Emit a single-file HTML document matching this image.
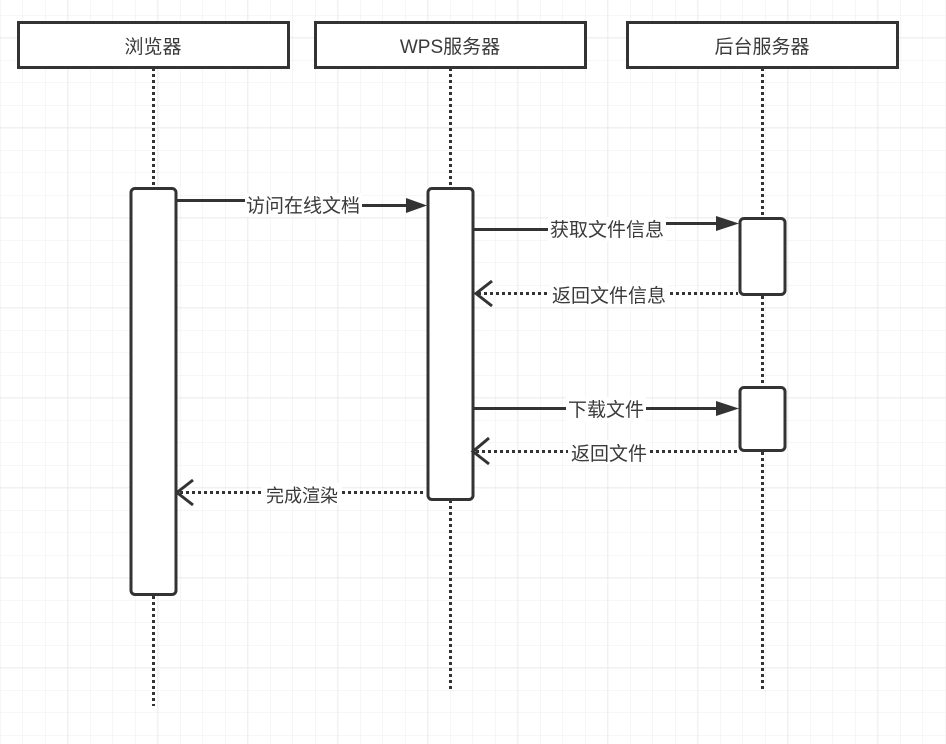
<!DOCTYPE html>
<html><head><meta charset="utf-8"><style>
body{margin:0;background:#fff}
svg{display:block}
text{font-family:"Liberation Sans","Noto Sans CJK SC",sans-serif;font-size:19px;fill:#3a3a3a}
</style></head><body>
<svg width="946" height="744" xmlns="http://www.w3.org/2000/svg">
<defs>
<pattern id="g" width="22.5" height="22.5" patternUnits="userSpaceOnUse" x="0" y="15">
<path d="M0 0H22.5M0 0V22.5" stroke="#ededed" stroke-width="1" fill="none"/>
</pattern>
<pattern id="G" width="90" height="90" patternUnits="userSpaceOnUse" x="67.5" y="37.5">
<path d="M0 0H90M0 0V90" stroke="#e3e3e3" stroke-width="1.5" fill="none"/>
</pattern>
</defs>
<rect width="946" height="744" fill="url(#g)"/>
<rect width="946" height="744" fill="url(#G)"/>
<g stroke="#333" stroke-width="3" fill="#fff">
<rect x="18.5" y="22.5" width="270" height="45"/>
<rect x="315.5" y="22.5" width="270" height="45"/>
<rect x="627.5" y="22.5" width="270" height="45"/>
</g>
<g stroke="#333" stroke-width="3" stroke-dasharray="3 3" fill="none">
<line x1="153.5" y1="68" x2="153.5" y2="706"/>
<line x1="450.5" y1="68" x2="450.5" y2="690"/>
<line x1="762.5" y1="68" x2="762.5" y2="690"/>
</g>
<g stroke="#333" stroke-width="3" fill="#fff">
<rect x="131" y="188.5" width="45" height="406" rx="4"/>
<rect x="428" y="188.5" width="45" height="311" rx="4"/>
<rect x="740" y="218.5" width="45" height="76" rx="4"/>
<rect x="740" y="387.5" width="45" height="63" rx="4"/>
</g>
<g stroke="#333" stroke-width="3" fill="none">
<path d="M177 200.5H250M360 205.5H406"/>
<path d="M474 229.5H550M665 223.5H716"/>
<path d="M474 408.5H716"/>
<g stroke-dasharray="3 3">
<path d="M478 293.5H738"/>
<path d="M476 451.5H738"/>
<path d="M180 492.5H426"/>
</g>
<path d="M492 281L476 293.5L492 306"/>
<path d="M489 438L473 451.5L489 464"/>
<path d="M193 480L177 492.5L193 505"/>
</g>
<g fill="#333">
<path d="M406 198L427 205.5L406 213Z"/>
<path d="M716 216L739 223.5L716 231Z"/>
<path d="M716 401L739 408.5L716 416Z"/>
</g>
<g fill="#fff">
<rect x="245" y="193" width="117" height="24"/>
<rect x="548" y="217" width="118" height="24"/>
<rect x="550" y="283" width="118" height="24"/>
<rect x="566" y="397" width="80" height="24"/>
<rect x="568" y="440" width="80" height="24"/>
<rect x="262" y="483" width="80" height="22"/>
</g>
<g text-anchor="middle">
<text x="153" y="53">浏览器</text>
<text x="450" y="53">WPS服务器</text>
<text x="762" y="53">后台服务器</text>
<text x="303" y="212">访问在线文档</text>
<text x="607" y="236">获取文件信息</text>
<text x="609" y="302">返回文件信息</text>
<text x="606" y="416">下载文件</text>
<text x="609" y="460">返回文件</text>
<text x="302" y="502" style="font-size:18px">完成渲染</text>
</g>
</svg>
</body></html>
